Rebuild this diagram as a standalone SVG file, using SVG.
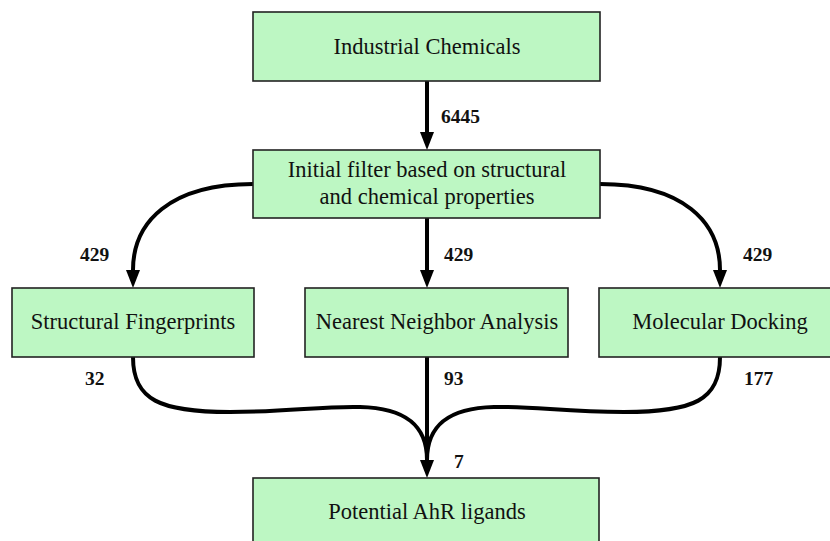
<svg xmlns="http://www.w3.org/2000/svg" width="830" height="541" viewBox="0 0 830 541">
<style>
.box{fill:#bdf7c3;stroke:#222;stroke-width:1.6}
.t{font-family:"Liberation Serif","Times New Roman",serif;font-size:22.5px;fill:#111;text-anchor:middle}
.n{font-family:"Liberation Serif","Times New Roman",serif;font-size:19.5px;font-weight:bold;fill:#111}
.c{fill:none;stroke:#000;stroke-width:4}
</style>
<defs>
<marker id="ah" markerUnits="userSpaceOnUse" markerWidth="20" markerHeight="16" refX="0" refY="7" orient="auto" viewBox="0 0 20 14">
<path d="M0,0 L18,7 L0,14 z" fill="#000"/>
</marker>
</defs>
<rect width="830" height="541" fill="#fff"/>
<g id="connectors">
<path class="c" d="M427,81 V132" marker-end="url(#ah)"/>
<path class="c" d="M253,184 C170,184 133,222 133,270" marker-end="url(#ah)"/>
<path class="c" d="M427,218 V270" marker-end="url(#ah)"/>
<path class="c" d="M600,184 C683,184 720,222 720,270" marker-end="url(#ah)"/>
<path class="c" d="M133,357 C133,400 160,412 230,412 C290,412 320,406 360,407 C405,408 427,425 427,460"/>
<path class="c" d="M720,357 C720,400 694,412 624,412 C564,412 534,406 494,407 C449,408 427,425 427,460"/>
<path class="c" d="M427,357 V460" marker-end="url(#ah)"/>
<text class="n" x="441" y="123">6445</text>
<text class="n" x="80" y="261">429</text>
<text class="n" x="444" y="261">429</text>
<text class="n" x="743" y="261">429</text>
<text class="n" x="85" y="385">32</text>
<text class="n" x="444" y="385">93</text>
<text class="n" x="744" y="385">177</text>
<text class="n" x="454" y="468">7</text>
</g>
<g id="n1"><rect class="box" x="253" y="12" width="347" height="69"/><text class="t" x="427" y="54">Industrial Chemicals</text></g>
<g id="n2"><rect class="box" x="253" y="150" width="347" height="68"/><text class="t" x="427" y="177">Initial filter based on structural</text><text class="t" x="427" y="204">and chemical properties</text></g>
<g id="n3"><rect class="box" x="12" y="288" width="242" height="69"/><text class="t" x="133" y="329">Structural Fingerprints</text></g>
<g id="n4"><rect class="box" x="305" y="288" width="263" height="69"/><text class="t" x="437" y="329">Nearest Neighbor Analysis</text></g>
<g id="n5"><rect class="box" x="599" y="288" width="240" height="69"/><text class="t" x="720" y="329">Molecular Docking</text></g>
<g id="n6"><rect class="box" x="253" y="478" width="346" height="80"/><text class="t" x="427" y="519">Potential AhR ligands</text></g>
</svg>
